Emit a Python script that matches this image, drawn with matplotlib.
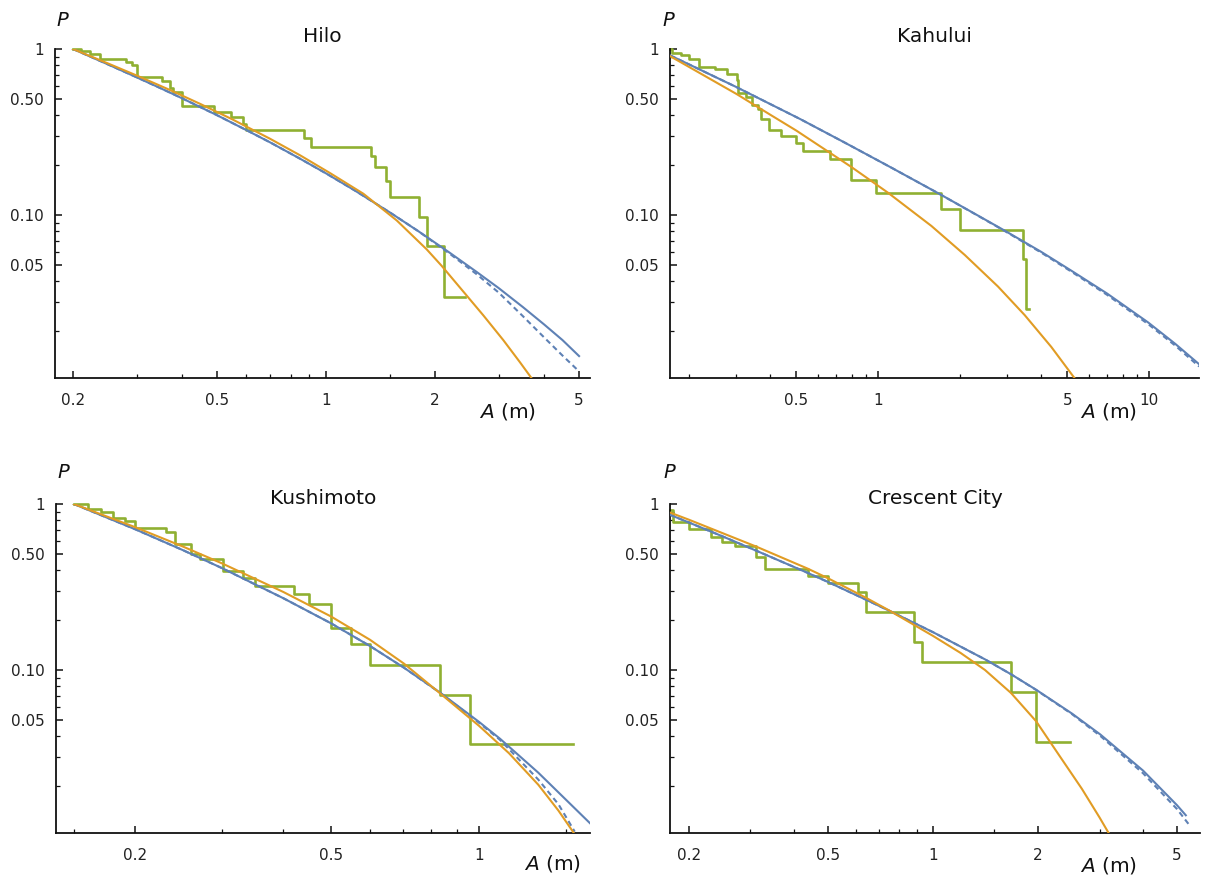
import matplotlib
matplotlib.use("Agg")
import matplotlib.pyplot as plt
from matplotlib.ticker import FixedLocator, FixedFormatter, NullFormatter

BLUE = "#5E81B5"
ORANGE = "#E19C24"
GREEN = "#8FB032"

# ---- Hilo ----
hilo_step_a = [0.200, 0.211, 0.223, 0.238, 0.280, 0.291, 0.300, 0.352, 0.371, 0.379, 0.399,
               0.490, 0.545, 0.590, 0.601, 0.868, 0.911, 1.331, 1.365, 1.461, 1.504, 1.807,
               1.898, 2.120, 2.425]
hilo_step_p = [1.000, 0.968, 0.935, 0.871, 0.839, 0.806, 0.677, 0.645, 0.581, 0.548, 0.452,
               0.419, 0.387, 0.355, 0.323, 0.290, 0.258, 0.226, 0.194, 0.161, 0.129, 0.097,
               0.065, 0.032, 0.032]
hilo_fit_a = [0.2, 0.25, 0.3, 0.35, 0.4, 0.5, 0.6, 0.7, 0.85, 1.0, 1.2, 1.5, 1.8, 2.2, 2.6,
              3.0, 3.5, 4.0, 4.5, 5.0]
hilo_fit_p = [1.0, 0.807, 0.675, 0.579, 0.505, 0.399, 0.326, 0.274, 0.2175, 0.178, 0.1405,
              0.1036, 0.0797, 0.0590, 0.0455, 0.0362, 0.0278, 0.0219, 0.0176, 0.0141]
hilo_fit2_p = [1.0, 0.807, 0.675, 0.579, 0.505, 0.399, 0.326, 0.274, 0.2175, 0.178, 0.1405,
               0.1036, 0.0797, 0.0582, 0.0441, 0.0340, 0.0245, 0.0183, 0.0142, 0.0114]
hilo_alt_a = [0.2, 0.25, 0.3, 0.37, 0.45, 0.55, 0.7, 0.85, 1.026, 1.268, 1.568, 1.897, 2.087,
              2.395, 2.72, 3.089, 3.435, 3.70]
hilo_alt_p = [1.0, 0.818, 0.692, 0.567, 0.466, 0.3775, 0.288, 0.228, 0.1787, 0.1342, 0.0926,
              0.0620, 0.0493, 0.0345, 0.0248, 0.01758, 0.01292, 0.01034]
hilo_xticks = [0.2, 0.5, 1, 2, 5]
hilo_xminor = [0.3, 0.4, 0.6, 0.7, 0.8, 0.9, 1.5, 3, 4]

# ---- Kahului ----
kahului_step_a = [0.171, 0.173, 0.188, 0.200, 0.219, 0.250, 0.277, 0.301, 0.305, 0.326, 0.343,
                  0.360, 0.369, 0.397, 0.438, 0.499, 0.527, 0.663, 0.793, 0.980, 1.708, 2.012,
                  3.42, 3.505, 3.62]
kahului_step_p = [1.000, 0.946, 0.919, 0.865, 0.784, 0.757, 0.703, 0.649, 0.541, 0.514, 0.459,
                  0.432, 0.378, 0.324, 0.297, 0.270, 0.243, 0.216, 0.162, 0.135, 0.108, 0.081,
                  0.054, 0.027, 0.027]
kahului_fit_a = [0.171, 0.2, 0.3, 0.4, 0.515, 0.75, 1.12, 1.665, 2.2, 2.934, 4.0, 5.17, 7.0,
                 9.92, 12.5, 15.3]
kahului_fit_p = [0.915, 0.810, 0.590, 0.466, 0.379, 0.274, 0.1927, 0.1353, 0.1048, 0.0804,
                 0.0599, 0.0461, 0.0336, 0.0225, 0.0167, 0.0126]
kahului_fit2_p = [0.915, 0.810, 0.590, 0.466, 0.379, 0.274, 0.1927, 0.1353, 0.1046, 0.0800,
                  0.0593, 0.0455, 0.0330, 0.0220, 0.0163, 0.0122]
kahului_alt_a = [0.171, 0.22, 0.3, 0.4, 0.5, 0.65, 0.797, 1.089, 1.574, 2.089, 2.772, 3.477,
                 4.36, 5.32]
kahului_alt_p = [0.905, 0.716, 0.5365, 0.402, 0.322, 0.2426, 0.1946, 0.136, 0.0858, 0.0574,
                 0.0370, 0.0249, 0.0160, 0.01034]
kahului_xticks = [0.5, 1, 5, 10]
kahului_xminor = [0.2, 0.3, 0.4, 0.6, 0.7, 0.8, 0.9, 2, 3, 4, 6, 7, 8, 9]

# ---- Kushimoto ----
kushimoto_step_a = [0.150, 0.160, 0.170, 0.180, 0.191, 0.200, 0.231, 0.241, 0.260, 0.271, 0.301,
                    0.331, 0.350, 0.421, 0.451, 0.500, 0.550, 0.601, 0.832, 0.959, 1.554]
kushimoto_step_p = [1.000, 0.929, 0.893, 0.821, 0.786, 0.714, 0.679, 0.571, 0.500, 0.464, 0.393,
                    0.357, 0.321, 0.286, 0.250, 0.179, 0.143, 0.107, 0.071, 0.036, 0.036]
kushimoto_fit_a = [0.15, 0.2, 0.25, 0.3, 0.4, 0.5, 0.6, 0.704, 0.832, 1.0, 1.104, 1.32, 1.69]
kushimoto_fit_p = [1.0, 0.704, 0.527, 0.411, 0.2705, 0.191, 0.1394, 0.103, 0.0732, 0.0486,
                   0.0384, 0.0240, 0.01173]
kushimoto_fit2_a = [0.15, 0.2, 0.25, 0.3, 0.4, 0.5, 0.6, 0.704, 0.832, 1.0, 1.104, 1.32, 1.45,
                    1.565]
kushimoto_fit2_p = [1.0, 0.704, 0.527, 0.411, 0.2705, 0.191, 0.1394, 0.103, 0.0730, 0.0480,
                    0.0378, 0.0218, 0.0155, 0.0106]
kushimoto_alt_a = [0.15, 0.175, 0.2, 0.25, 0.3, 0.4, 0.5, 0.6, 0.704, 0.832, 1.0, 1.15, 1.32,
                   1.45, 1.569]
kushimoto_alt_p = [1.0, 0.841, 0.7245, 0.554, 0.439, 0.295, 0.210, 0.152, 0.109, 0.0725, 0.046,
                   0.0315, 0.0203, 0.0142, 0.0101]
kushimoto_xticks = [0.2, 0.5, 1]
kushimoto_xminor = [0.15, 0.3, 0.4, 0.6, 0.7, 0.8, 0.9, 1.5]

# ---- Crescent City ----
crescent_step_a = [0.176, 0.180, 0.200, 0.231, 0.249, 0.271, 0.311, 0.330, 0.438, 0.501, 0.610,
                   0.641, 0.881, 0.927, 1.674, 1.975, 2.475]
crescent_step_p = [0.926, 0.778, 0.704, 0.630, 0.593, 0.556, 0.481, 0.407, 0.370, 0.333, 0.296,
                   0.222, 0.148, 0.111, 0.074, 0.037, 0.037]
crescent_fit_a = [0.176, 0.2, 0.25, 0.311, 0.438, 0.5, 0.641, 0.747, 1.0, 1.409, 1.674, 1.975,
                  2.5, 3.016, 4.0, 5.0, 5.3]
crescent_fit_p = [0.862, 0.773, 0.637, 0.524, 0.384, 0.339, 0.2657, 0.228, 0.1688, 0.1158,
                  0.0941, 0.0759, 0.0546, 0.0408, 0.0247, 0.0153, 0.0133]
crescent_fit2_a = [0.176, 0.2, 0.25, 0.311, 0.438, 0.5, 0.641, 0.747, 1.0, 1.409, 1.674, 1.975,
                   2.5, 3.016, 4.0, 5.0, 5.41]
crescent_fit2_p = [0.862, 0.773, 0.637, 0.524, 0.384, 0.339, 0.2657, 0.228, 0.1688, 0.1158,
                   0.0941, 0.0757, 0.0542, 0.0400, 0.0238, 0.0145, 0.0117]
crescent_alt_a = [0.176, 0.2, 0.311, 0.438, 0.5, 0.641, 0.747, 1.0, 1.2, 1.409, 1.674, 1.975,
                  2.3, 2.67, 3.0, 3.22]
crescent_alt_p = [0.890, 0.8035, 0.5546, 0.4074, 0.3569, 0.2729, 0.2289, 0.1603, 0.1265, 0.0999,
                  0.0725, 0.0490, 0.0305, 0.0192, 0.0129, 0.0100]
crescent_xticks = [0.2, 0.5, 1, 2, 5]
crescent_xminor = [0.3, 0.4, 0.6, 0.7, 0.8, 0.9, 1.5, 3, 4]

y_major = [1, 0.5, 0.1, 0.05]
y_labels = ["1", "0.50", "0.10", "0.05"]
y_minor = [0.9, 0.8, 0.7, 0.6, 0.4, 0.3, 0.2, 0.09, 0.08, 0.07, 0.06, 0.04, 0.03, 0.02]

W, H = 1206, 881


def fx(px):
    return px / W


def fy(py):
    return 1 - py / H


# title, axes box in pixels (left, top, right, bottom), xlim, ticks, curves, P / A label spots
panels = [
    ("Hilo", (55, 49, 590, 378), (0.1784, 5.36), hilo_xticks, hilo_xminor,
     hilo_step_a, hilo_step_p, hilo_fit_a, hilo_fit_p, hilo_fit_a, hilo_fit2_p,
     hilo_alt_a, hilo_alt_p, (62, 20), (507, 412)),
    ("Kahului", (670, 49, 1199, 378), (0.1708, 15.29), kahului_xticks, kahului_xminor,
     kahului_step_a, kahului_step_p, kahului_fit_a, kahului_fit_p, kahului_fit_a, kahului_fit2_p,
     kahului_alt_a, kahului_alt_p, (668, 20), (1108, 412)),
    ("Kushimoto", (56, 504, 590, 833), (0.138, 1.681), kushimoto_xticks, kushimoto_xminor,
     kushimoto_step_a, kushimoto_step_p, kushimoto_fit_a, kushimoto_fit_p, kushimoto_fit2_a,
     kushimoto_fit2_p, kushimoto_alt_a, kushimoto_alt_p, (63, 472), (552, 863)),
    ("Crescent City", (670, 504, 1200, 833), (0.1764, 5.82), crescent_xticks, crescent_xminor,
     crescent_step_a, crescent_step_p, crescent_fit_a, crescent_fit_p, crescent_fit2_a,
     crescent_fit2_p, crescent_alt_a, crescent_alt_p, (669, 473), (1108, 866)),
]

fig = plt.figure(figsize=(W / 100, H / 100), dpi=100)

for (title, box, xlim, xticks, xminor, sa, sp, fa, fp, f2a, f2p, oa, op, p_xy, a_xy) in panels:
    l, t, r, b = box
    ax = fig.add_axes([fx(l), fy(b), (r - l) / W, (b - t) / H])
    ax.set_xscale("log")
    ax.set_yscale("log")

    ax.step(sa, sp, where="post", color=GREEN, lw=1.9, clip_on=False, zorder=2)
    ax.plot(f2a, f2p, color=BLUE, lw=1.5, ls=(0, (2.6, 1.8)), zorder=3)
    ax.plot(fa, fp, color=BLUE, lw=1.5, zorder=3)
    ax.plot(oa, op, color=ORANGE, lw=1.5, zorder=4)

    ax.set_xlim(*xlim)
    ax.set_ylim(0.0104, 1.0)

    ax.xaxis.set_major_locator(FixedLocator(xticks))
    ax.xaxis.set_major_formatter(FixedFormatter([f"{v:g}" for v in xticks]))
    ax.xaxis.set_minor_locator(FixedLocator(xminor))
    ax.xaxis.set_minor_formatter(NullFormatter())
    ax.yaxis.set_major_locator(FixedLocator(y_major))
    ax.yaxis.set_major_formatter(FixedFormatter(y_labels))
    ax.yaxis.set_minor_locator(FixedLocator(y_minor))
    ax.yaxis.set_minor_formatter(NullFormatter())

    for s in ("top", "right"):
        ax.spines[s].set_visible(False)
    for s in ("left", "bottom"):
        ax.spines[s].set_linewidth(1.3)
        ax.spines[s].set_color("#111111")
    ax.tick_params(which="both", direction="in", colors="#111111", labelcolor="#222222")
    ax.tick_params(which="major", length=5, width=1.1, labelsize=11)
    ax.tick_params(which="minor", length=3, width=0.9)
    ax.tick_params(axis="x", which="major", pad=10.5)
    ax.tick_params(axis="y", which="major", pad=8)
    ax.patch.set_alpha(0)

    fig.text(fx((l + r) / 2), fy(t - 12 if t < 100 else t - 6), title, ha="center", va="center",
             fontsize=14.5, color="#111111")
    fig.text(fx(p_xy[0]), fy(p_xy[1]), "P", ha="center", va="center", fontsize=14,
             fontstyle="italic", color="#111111")
    fig.text(fx(a_xy[0]), fy(a_xy[1]), r"$\mathit{A}$ (m)", ha="center", va="center",
             fontsize=14.5, color="#111111")

fig.savefig("out.png", dpi=100)
